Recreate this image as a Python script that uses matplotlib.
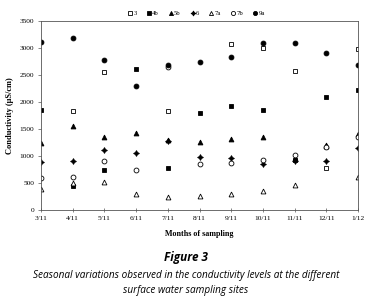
import numpy as np
import matplotlib
matplotlib.use("Agg")
import matplotlib.pyplot as plt

months = ["3/11", "4/11", "5/11", "6/11", "7/11", "8/11", "9/11", "10/11", "11/11", "12/11", "1/12"]
nan = np.nan
s3  = [nan, 1830, 2560, nan, 1840, nan, 3075, 3005, 2570, 780, 2975]
s4b = [1850, 450, 735, 2620, 775, 1795, 1935, 1845, 930, 2100, 2220]
s5b = [1250, 1560, 1345, 1420, 1290, 1260, 1310, 1355, 960, 1200, 1400]
s6  = [890, 905, 1105, 1060, 1275, 985, 960, 855, 905, 900, 1140]
s7a = [395, 495, 510, 295, 235, 260, 290, 350, 465, 1180, 615]
s7b = [600, 620, 905, 750, 2640, 850, 865, 925, 1010, 1160, 1360]
s9a = [3115, 3185, 2775, 2295, 2685, 2745, 2840, 3090, 3100, 2905, 2690]

series = [
    ("3", s3, dict(marker="s", mfc="white", mec="black")),
    ("4b", s4b, dict(marker="s", mfc="black", mec="black")),
    ("5b", s5b, dict(marker="^", mfc="black", mec="black")),
    ("6", s6, dict(marker=(4, 1, 0), mfc="black", mec="black")),
    ("7a", s7a, dict(marker="^", mfc="white", mec="black")),
    ("7b", s7b, dict(marker="o", mfc="white", mec="black")),
    ("9a", s9a, dict(marker="o", mfc="black", mec="black")),
]

fig = plt.figure(figsize=(3.72, 3.07), dpi=100)
ax = fig.add_axes([41/372, 1-210/307, (358-41)/372, (210-21)/307])
x = np.arange(len(months))
for name, vals, st in series:
    ms = 4.2 if name == "6" else 3.5
    ax.plot(x, vals, linestyle="none", markersize=ms, mew=0.6, label=name, **st)

ax.set_xlim(0, len(months)-1)
ax.set_ylim(0, 3500)
ax.set_yticks(range(0, 3501, 500))
ax.set_xticks(x)
ax.set_xticklabels(months)
serif = "Liberation Serif"
for lab in ax.get_xticklabels() + ax.get_yticklabels():
    lab.set_fontfamily(serif)
    lab.set_fontsize(5.3)
ax.tick_params(axis="both", length=2, width=0.5, pad=3, color="#555555")
ax.tick_params(axis="x", direction="inout", length=3)
for sp in ax.spines.values():
    sp.set_linewidth(0.6)
    sp.set_color("#555555")
ax.set_xlabel("Months of sampling", fontfamily=serif, fontsize=5.8, fontweight="bold", labelpad=6)
ax.set_ylabel("Conductivity (µS/cm)", fontfamily=serif, fontsize=6, fontweight="bold", labelpad=4)

leg = ax.legend(loc="lower center", bbox_to_anchor=(0.49, 1.0), ncol=7, frameon=False,
                prop={"family": serif, "size": 4.8}, handlelength=0.6, handletextpad=0.2,
                columnspacing=1.5, borderaxespad=0.3, markerscale=0.85)

fig.text(0.5, 1-257/307, "Figure 3", ha="center", va="center", fontsize=8.5,
         fontstyle="italic", fontweight="bold", fontfamily="Open Sans")
fig.text(0.5, 1-283/307, "Seasonal variations observed in the conductivity levels at the different\nsurface water sampling sites",
         ha="center", va="center", fontsize=7.2, fontstyle="italic", fontfamily="Open Sans",
         linespacing=1.4)

fig.savefig("out.png", dpi=100)
